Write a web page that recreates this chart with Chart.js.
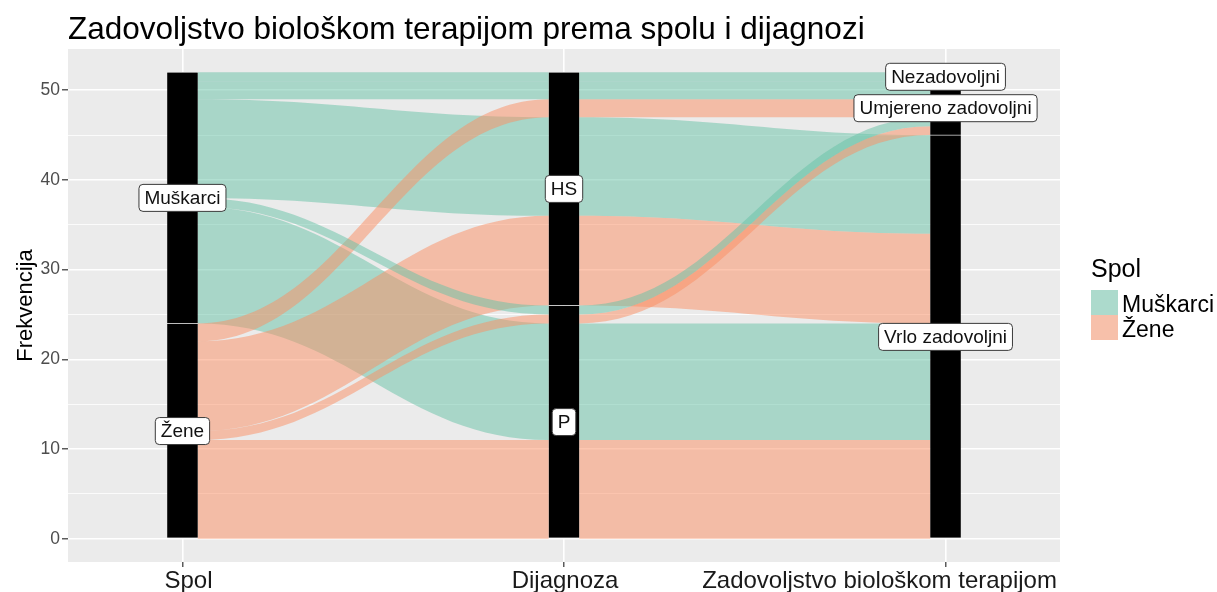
<!DOCTYPE html>
<html>
<head>
<meta charset="utf-8">
<script src="https://cdn.jsdelivr.net/npm/chart.js@4.4.1/dist/chart.umd.min.js"></script>
<style>
  html, body { margin: 0; padding: 0; background: #ffffff; }
  #wrap { width: 1217px; height: 592px; position: relative; }
</style>
</head>
<body>
<div id="wrap"><canvas id="alluvial"></canvas></div>
<script>
// axes and their strata, listed bottom -> top
const axisLabels = ["Spol", "Dijagnoza", "Zadovoljstvo biološkom terapijom"];
const spolStrata = ["Žene", "Muškarci"];
const dijagnozaStrata = ["P", "HS"];
const zadovoljstvoStrata = ["Vrlo zadovoljni", "Umjereno zadovoljni", "Nezadovoljni"];

// one entry per alluvium (combination of the three axes)
const alluviumSpol = ["Žene", "Muškarci", "Žene", "Muškarci", "Žene", "Muškarci", "Žene", "Muškarci", "Muškarci"];
const alluviumDijagnoza = ["P", "P", "P", "P", "HS", "HS", "HS", "HS", "HS"];
const alluviumZadovoljstvo = [
  "Vrlo zadovoljni", "Vrlo zadovoljni", "Umjereno zadovoljni", "Umjereno zadovoljni",
  "Vrlo zadovoljni", "Vrlo zadovoljni", "Umjereno zadovoljni", "Umjereno zadovoljni", "Nezadovoljni",
];
const alluviumCount = [11, 13, 1, 1, 10, 11, 2, 2, 1];

// y axis ticks
const yMajorTicks = [0, 10, 20, 30, 40, 50];
const yMinorTicks = [5, 15, 25, 35, 45];

// styling
const spolColors = ["rgba(252, 141, 98, 0.5)", "rgba(102, 194, 165, 0.5)"]; // Žene, Muškarci
const stratumWidth = 0.08;
const knot = 0.42;
const xLabelNudge = [6, 1, -66]; // px, the axis names are not centred on their ticks
const FONT = "'Liberation Sans', Arial, Helvetica, sans-serif";

// stacking of the lodes: within a stratum, order by the neighbouring axes
const strata = [spolStrata, dijagnozaStrata, zadovoljstvoStrata];
const values = [alluviumSpol, alluviumDijagnoza, alluviumZadovoljstvo];
const lodeGuide = [[1, 2], [2, 0], [1, 0]];
const rank = (a, i) => strata[a].indexOf(values[a][i]);

const lodes = axisLabels.map((_, a) => {
  const idx = alluviumCount.map((_, i) => i);
  idx.sort((p, q) => {
    if (rank(a, p) !== rank(a, q)) return rank(a, p) - rank(a, q);
    for (const b of lodeGuide[a]) {
      if (rank(b, p) !== rank(b, q)) return rank(b, p) - rank(b, q);
    }
    return 0;
  });
  const out = [];
  let y = 0;
  idx.forEach((i) => {
    out[i] = [y, y + alluviumCount[i]];
    y += alluviumCount[i];
  });
  return out;
});

// strata as floating bars
const strataBars = [];
strata.forEach((list, a) => {
  let y = 0;
  list.forEach((s) => {
    let n = 0;
    alluviumCount.forEach((c, i) => { if (values[a][i] === s) n += c; });
    strataBars.push({ x: a + 1, y: [y, y + n], label: s });
    y += n;
  });
});

// big flows first, thin ones on top
const drawOrder = alluviumCount.map((_, i) => i).sort((p, q) => alluviumCount[q] - alluviumCount[p]);

const panelBackground = {
  id: "panelBackground",
  beforeDraw(chart) {
    const { ctx, chartArea: c } = chart;
    ctx.save();
    ctx.fillStyle = "#EBEBEB";
    ctx.fillRect(c.left, c.top, c.right - c.left, c.bottom - c.top);
    ctx.restore();
  },
};

const alluvialFlows = {
  id: "alluvialFlows",
  beforeDatasetsDraw(chart) {
    const { ctx, chartArea: c, scales: { x, y } } = chart;
    ctx.save();
    ctx.beginPath();
    ctx.rect(c.left, c.top, c.right - c.left, c.bottom - c.top);
    ctx.clip();
    drawOrder.forEach((i) => {
      ctx.fillStyle = spolColors[spolStrata.indexOf(alluviumSpol[i])];
      for (let a = 0; a < axisLabels.length - 1; a++) {
        const x0 = x.getPixelForValue(a + 1 + stratumWidth / 2);
        const x1 = x.getPixelForValue(a + 2 - stratumWidth / 2);
        const xm0 = x0 + (x1 - x0) * knot;
        const xm1 = x1 - (x1 - x0) * knot;
        const lo0 = y.getPixelForValue(lodes[a][i][0]);
        const hi0 = y.getPixelForValue(lodes[a][i][1]);
        const lo1 = y.getPixelForValue(lodes[a + 1][i][0]);
        const hi1 = y.getPixelForValue(lodes[a + 1][i][1]);
        ctx.beginPath();
        ctx.moveTo(x0, hi0);
        ctx.bezierCurveTo(xm0, hi0, xm1, hi1, x1, hi1);
        ctx.lineTo(x1, lo1);
        ctx.bezierCurveTo(xm1, lo1, xm0, lo0, x0, lo0);
        ctx.closePath();
        ctx.fill();
      }
    });
    ctx.restore();
  },
};

const stratumLabels = {
  id: "stratumLabels",
  afterDatasetsDraw(chart) {
    const { ctx, scales: { x, y } } = chart;
    ctx.save();
    ctx.font = "19px " + FONT;
    ctx.textAlign = "center";
    ctx.textBaseline = "middle";
    strataBars.forEach((b) => {
      const cx = x.getPixelForValue(b.x);
      const cy = y.getPixelForValue((b.y[0] + b.y[1]) / 2);
      const w = ctx.measureText(b.label).width + 11;
      const h = 27;
      ctx.beginPath();
      ctx.roundRect(cx - w / 2, cy - h / 2, w, h, 4);
      ctx.fillStyle = "#ffffff";
      ctx.fill();
      ctx.lineWidth = 1;
      ctx.strokeStyle = "#3a3a3a";
      ctx.stroke();
      ctx.fillStyle = "#111111";
      ctx.fillText(b.label, cx, cy + 1);
    });
    ctx.restore();
  },
};

const outerTexts = {
  id: "outerTexts",
  afterDraw(chart) {
    const { ctx, chartArea: c, scales: { x } } = chart;
    ctx.save();
    // title
    ctx.fillStyle = "#000000";
    ctx.font = "31.5px " + FONT;
    ctx.textAlign = "left";
    ctx.textBaseline = "alphabetic";
    ctx.fillText("Zadovoljstvo biološkom terapijom prema spolu i dijagnozi", c.left, 39);
    // x axis names
    ctx.font = "24px " + FONT;
    ctx.textAlign = "center";
    ctx.fillStyle = "#1a1a1a";
    axisLabels.forEach((lab, i) => {
      ctx.fillText(lab, x.getPixelForValue(i + 1) + xLabelNudge[i], 588);
    });
    // y axis title
    ctx.fillStyle = "#000000";
    ctx.save();
    ctx.translate(26, (c.top + c.bottom) / 2);
    ctx.rotate(-Math.PI / 2);
    ctx.font = "22px " + FONT;
    ctx.textAlign = "center";
    ctx.textBaseline = "middle";
    ctx.fillText("Frekvencija", 0, 0);
    ctx.restore();
    // legend
    const lx = c.right + 31;
    ctx.font = "25px " + FONT;
    ctx.textAlign = "left";
    ctx.fillText("Spol", lx, 277);
    const legendOrder = spolStrata.slice().reverse();
    legendOrder.forEach((s, k) => {
      const ky = 290 + k * 25;
      ctx.fillStyle = "#F2F2F2";
      ctx.fillRect(lx, ky, 27, 25);
      ctx.fillStyle = spolColors[spolStrata.indexOf(s)];
      ctx.fillRect(lx, ky, 27, 25);
      ctx.fillStyle = "#000000";
      ctx.font = "23px " + FONT;
      ctx.fillText(s, lx + 31, ky + 22);
    });
    ctx.restore();
  },
};

const config = {
  type: "bar",
  data: {
    datasets: [
      {
        label: "strata",
        data: strataBars,
        backgroundColor: "#000000",
        borderColor: "#bdbdbd",
        borderWidth: { top: 0.8, bottom: 0.8, left: 0, right: 0 },
        borderSkipped: false,
        barThickness: 30.5,
      },
    ],
  },
  options: {
    responsive: true,
    maintainAspectRatio: false,
    animation: false,
    events: [],
    layout: { padding: { top: 49, right: 157, left: 0, bottom: 0 } },
    plugins: {
      legend: { display: false },
      tooltip: { enabled: false },
      title: { display: false },
    },
    scales: {
      x: {
        type: "linear",
        min: 0.7,
        max: 3.3,
        offset: false,
        afterBuildTicks: (s) => {
          s.ticks = axisLabels.map((_, i) => ({ value: i + 1 }));
        },
        afterFit: (s) => {
          s.height = 30;
        },
        ticks: { display: false },
        grid: {
          offset: false,
          color: "#ffffff",
          lineWidth: 1.6,
          tickColor: "#333333",
          tickLength: 5,
          tickWidth: 1.2,
        },
        border: { display: false },
      },
      y: {
        type: "linear",
        min: -2.6,
        max: 54.6,
        afterBuildTicks: (s) => {
          s.ticks = yMajorTicks.concat(yMinorTicks).sort((a, b) => a - b).map((v) => ({ value: v }));
        },
        afterFit: (s) => {
          s.width = 68;
        },
        ticks: {
          callback: (v) => (yMajorTicks.includes(v) ? String(v) : ""),
          font: { size: 17.5, family: FONT },
          color: "#4d4d4d",
          padding: 2,
        },
        grid: {
          color: "#ffffff",
          lineWidth: (ctx) => (yMajorTicks.includes(ctx.tick.value) ? 1.6 : 0.8),
          tickColor: (ctx) => (yMajorTicks.includes(ctx.tick.value) ? "#333333" : "rgba(0,0,0,0)"),
          tickLength: 6,
          tickWidth: 1.2,
        },
        border: { display: false },
      },
    },
  },
  plugins: [panelBackground, alluvialFlows, stratumLabels, outerTexts],
};

const alluvialChart = new Chart(document.querySelector("#alluvial"), config);
</script>
</body>
</html>
